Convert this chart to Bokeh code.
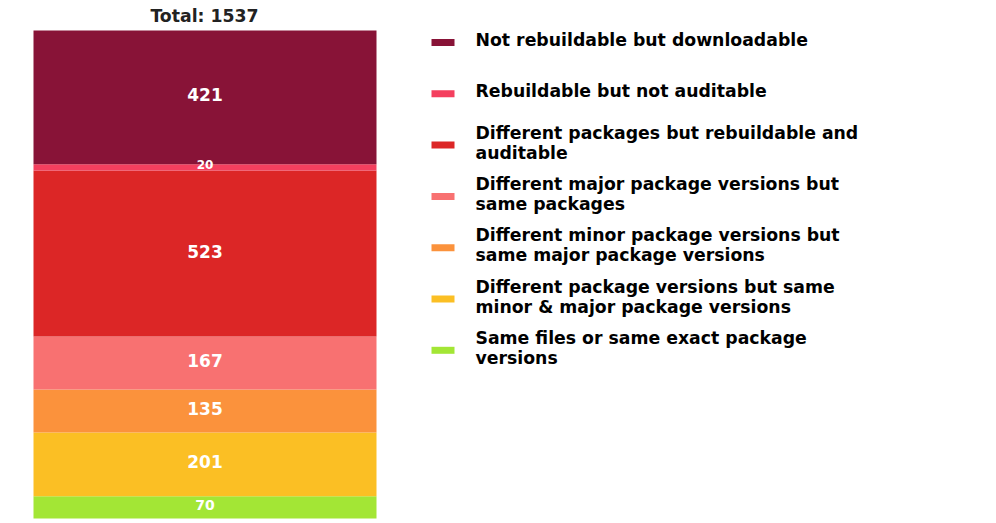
from bokeh.plotting import figure
from bokeh.models import Range1d, ColumnDataSource
from bokeh.core.properties import value
from bokeh.embed import file_html
from bokeh.resources import INLINE

# Data (bottom to top)
categories = [
    "Same files or same exact package\nversions",
    "Different package versions but same\nminor & major package versions",
    "Different minor package versions but\nsame major package versions",
    "Different major package versions but\nsame packages",
    "Different packages but rebuildable and\nauditable",
    "Rebuildable but not auditable",
    "Not rebuildable but downloadable",
]
counts = [70, 201, 135, 167, 523, 20, 421]
colors = ["#A3E635", "#FBBF24", "#FB923C", "#F87171", "#DC2626", "#F43F5E", "#881337"]
label_sizes = ["14px", "17px", "17px", "17px", "17px", "12px", "17px"]

total = sum(counts)
bottoms = []
acc = 0
for c in counts:
    bottoms.append(acc)
    acc += c
tops = [b + c for b, c in zip(bottoms, counts)]
mids = [(b + t) / 2 for b, t in zip(bottoms, tops)]

W, H = 980, 523
bar_top_px, bar_bot_px = 30, 518
scale = (bar_bot_px - bar_top_px) / total
y_lo = -(H - bar_bot_px) / scale
y_hi = total + bar_top_px / scale

p = figure(width=W, height=H, output_backend="svg", toolbar_location=None,
           x_range=Range1d(0, W), y_range=Range1d(y_lo, y_hi),
           min_border=0, min_border_left=0, min_border_right=0,
           min_border_top=0, min_border_bottom=0)
p.extra_y_ranges = {"px": Range1d(H, 0)}
p.xaxis.visible = False
p.yaxis.visible = False
p.grid.visible = False
p.outline_line_color = None
p.background_fill_color = "white"
p.border_fill_color = "white"

src = ColumnDataSource(dict(bottom=bottoms, top=tops, mid=mids, color=colors,
                            count=[str(c) for c in counts], size=label_sizes))

bar_x = 204.5
bar_w = 343
p.vbar(x=bar_x, width=bar_w, bottom="bottom", top="top", color="color",
       line_color=None, source=src)
p.text(x=bar_x, y="mid", text="count", text_color="white",
       text_font=value("DejaVu Sans"), text_font_style="bold",
       text_font_size="size", text_align="center", text_baseline="middle",
       y_offset=-2.5, source=src)

# Title
p.text(x=[204], y=[15], text=[f"Total: {total}"], y_range_name="px",
       text_color="#222222", text_font=value("DejaVu Sans"),
       text_font_style="bold", text_font_size="17.3px",
       text_align="center", text_baseline="middle")

# Legend (top to bottom)
leg_y = [42 + 51.3 * i for i in range(len(categories))]
leg_text_y = [y - 2.5 for y in leg_y]
leg_src = ColumnDataSource(dict(y=leg_y, ty=leg_text_y, cat=categories[::-1],
                                color=colors[::-1]))
p.rect(x=442.5, y="y", width=23, height=7, color="color", line_color=None,
       y_range_name="px", source=leg_src)
p.text(x=475, y="ty", text="cat", text_color="black",
       text_font=value("DejaVu Sans"), text_font_style="bold",
       text_font_size="17.3px", text_align="left", text_baseline="middle",
       text_line_height=1.0, y_range_name="px", source=leg_src)

open("out.html", "w").write(file_html(p, INLINE))
